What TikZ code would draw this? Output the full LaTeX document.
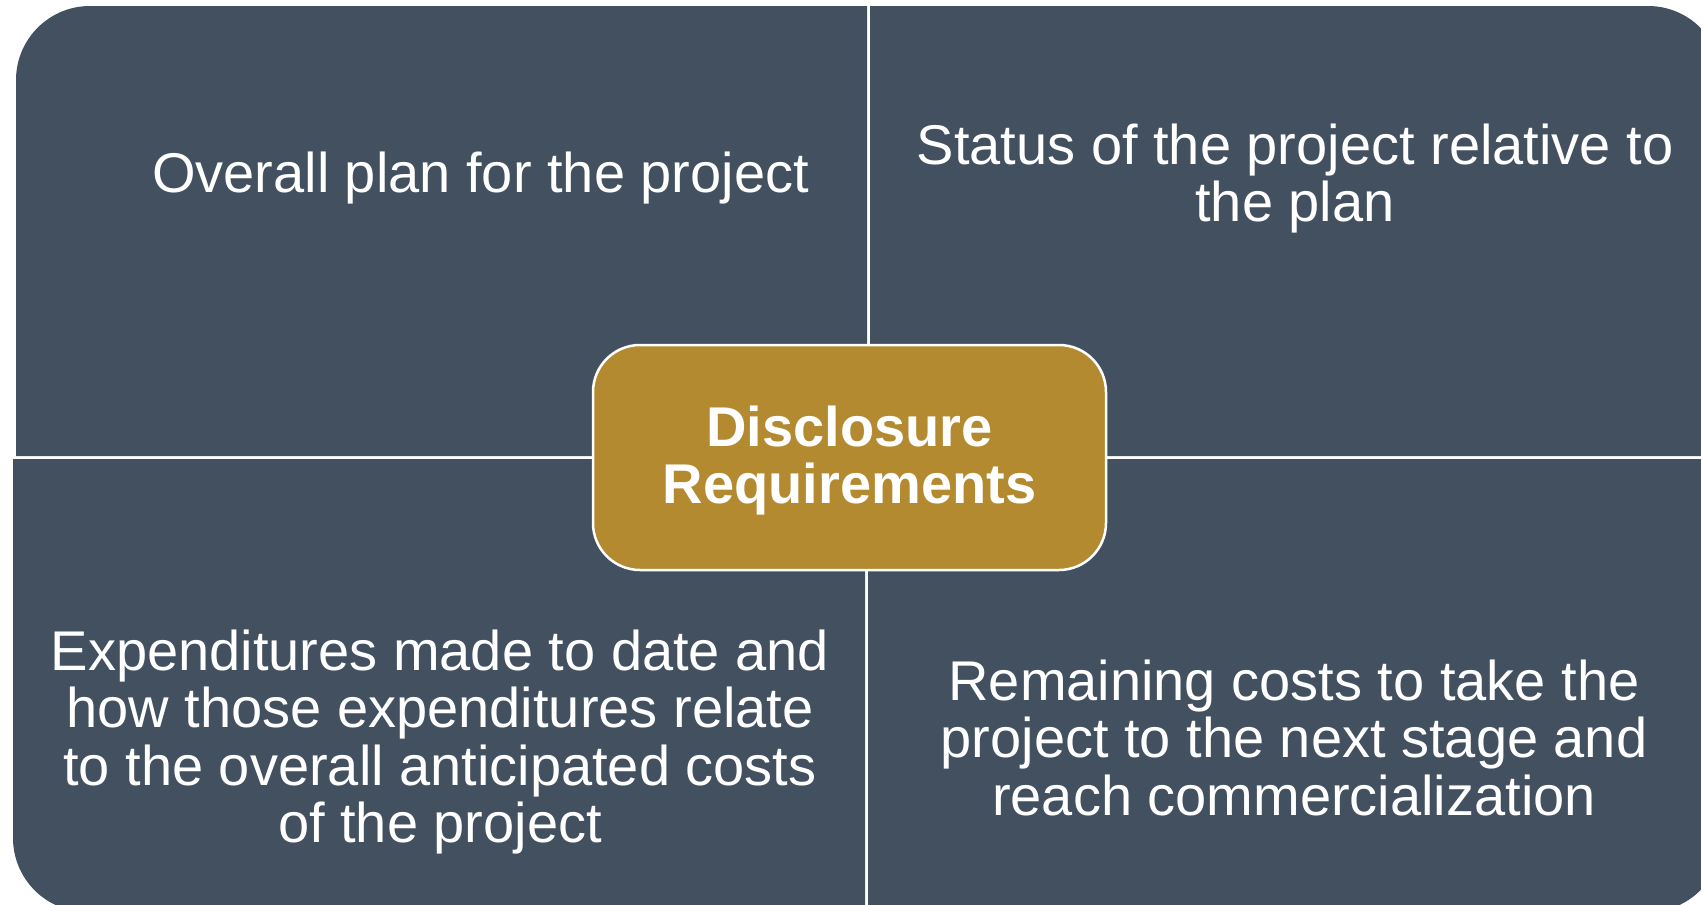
\documentclass[tikz,border=0pt]{standalone}
\usepackage{fontspec}
\setmainfont{Liberation Sans}
\definecolor{quadfill}{RGB}{67,80,96}
\definecolor{goldfill}{RGB}{180,138,48}
\newcommand\firstline{\rule{0pt}{45pt}}
\begin{document}
\begin{tikzpicture}[x=1pt,y=-1pt,
  quad/.style={fill=quadfill},
  quadtext/.style={anchor=north, align=center, inner sep=0pt, text=white,
    font=\fontsize{56}{57.5}\selectfont},
  centerbox/.style={draw=white, line width=2.5pt, fill=goldfill, rounded corners=47pt,
    minimum width=513pt, minimum height=225pt, inner sep=0pt, align=center, text=white,
    font=\bfseries\fontsize{56}{57.5}\selectfont}]
\useasboundingbox (0,0) rectangle (1701,905);
\clip (0,0) rectangle (1701,905);
\fill[white] (0,0) rectangle (1701,905);
% quadrants
\path[quad] (16,456) -- (16,80) arc[start angle=180, end angle=270, radius=74] -- (867,6) -- (867,456) -- cycle;
\path[quad] (870,6) -- (1648,6) arc[start angle=270, end angle=360, radius=74] -- (1722,456) -- (870,456) -- cycle;
\path[quad] (13,459) -- (865,459) -- (865,912) -- (87,912) arc[start angle=90, end angle=180, radius=74] -- cycle;
\path[quad] (868,459) -- (1722,459) -- (1722,838) arc[start angle=0, end angle=90, radius=74] -- (868,912) -- cycle;
% texts
\node[quadtext] (tl) at (480.5,147) {\firstline Overall plan for the project};
\node[quadtext] (tr) at (1295,119) {\firstline Status of the project relative to\\the plan};
\node[quadtext] (bl) at (440,625) {\firstline Expenditures made to date and\\how those expenditures relate\\to the overall anticipated costs\\of the project};
\node[quadtext] (br) at (1294,655) {\firstline Remaining costs to take the\\project to the next stage and\\reach commercialization};
% center
\node[centerbox] (center) at (849.5,457.5) {\rule{0pt}{47pt}Disclosure\\Requirements};
\end{tikzpicture}
\end{document}
